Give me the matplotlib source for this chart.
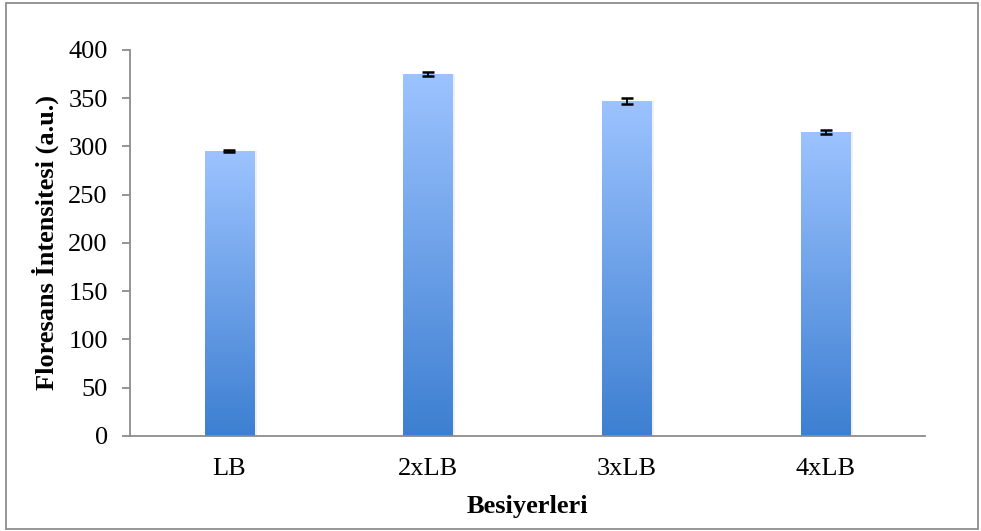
import numpy as np
import matplotlib.pyplot as plt
from matplotlib.colors import LinearSegmentedColormap
from matplotlib.patches import Rectangle

categories = ["LB", "2xLB", "3xLB", "4xLB"]
values = [295, 375, 347, 315]
errors = [1, 2, 3, 2]

plt.rcParams['font.family'] = ['Liberation Serif', 'DejaVu Serif']

fig = plt.figure(figsize=(9.81, 5.31), dpi=100)
ax = fig.add_axes([0.1325, 0.179, 0.8105, 0.727])

x = np.arange(len(categories))
bars = ax.bar(x, values, width=0.25, color='none', edgecolor='none', zorder=2)

cmap = LinearSegmentedColormap.from_list("grad", ["#3d7fd1", "#9cc3ff"])
grad = np.linspace(0, 1, 256).reshape(-1, 1)
for b in bars:
    x0, w, h = b.get_x(), b.get_width(), b.get_height()
    # faint shadow on the right
    ax.add_patch(Rectangle((x0 + 0.012, 0), w, h, color='#000000', alpha=0.06,
                           lw=0, zorder=1))
    im = ax.imshow(grad, cmap=cmap, origin='lower', aspect='auto',
                   extent=[x0, x0 + w, 0, h], zorder=2)
    im.set_clip_path(b)

ax.errorbar(x, values, yerr=errors, fmt='none', ecolor='black', elinewidth=1.3,
            capsize=4.3, capthick=1.8, zorder=3)

ax.set_xlim(-0.5, len(categories) - 0.5)
ax.set_ylim(0, 400)
ax.set_yticks(np.arange(0, 401, 50))
ax.set_xticks(x)
ax.set_xticklabels(categories)

for s in ['top', 'right']:
    ax.spines[s].set_visible(False)
for s in ['left', 'bottom']:
    ax.spines[s].set_color('#8c8c8c')
    ax.spines[s].set_linewidth(1.3)

ax.tick_params(axis='y', direction='out', length=6, width=1.3, color='#8c8c8c',
               labelsize=19, pad=10)
ax.tick_params(axis='x', length=0, labelsize=19, pad=16)

ax.set_ylabel("Floresans İntensitesi (a.u.)", fontsize=19, fontweight='bold', labelpad=7)
ax.set_xlabel("Besiyerleri", fontsize=19, fontweight='bold', labelpad=11)

fig.patches.append(Rectangle((0.006, 0.004), 0.991, 0.99, transform=fig.transFigure,
                             fill=False, edgecolor='#8c8c8c', linewidth=1.3))

fig.savefig("out.png", dpi=100)
